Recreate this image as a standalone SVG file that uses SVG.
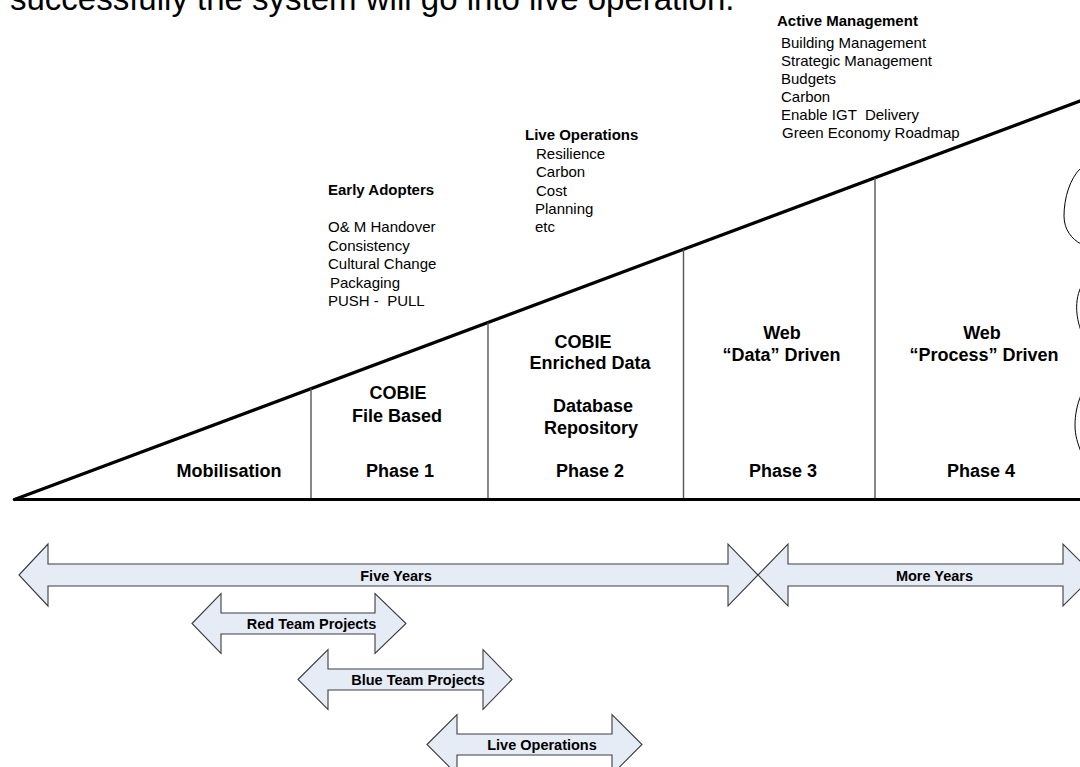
<svg xmlns="http://www.w3.org/2000/svg" width="1080" height="767" viewBox="0 0 1080 767">
  <style>
    text { font-family: "Liberation Sans", Arial, sans-serif; fill: #000; }
    .intro { font-size: 33px; }
    .head { font-size: 15px; font-weight: bold; }
    .item { font-size: 15px; }
    .phase { font-size: 18px; font-weight: bold; text-anchor: middle; }
    .span { font-size: 14.5px; font-weight: bold; text-anchor: middle; }
    .edge { stroke: #000; stroke-width: 3.2; fill: none; stroke-linecap: round; }
    .divider { stroke: #555; stroke-width: 1.4; fill: none; }
    .curl { stroke: #000; stroke-width: 1; fill: none; }
    .band { fill: #E6ECF6; stroke: #3c3c3c; stroke-width: 1.1; stroke-linejoin: miter; }
  </style>

  <!-- heading line, cut at the top edge -->
  <text class="intro" x="10" y="10">successfully the system will go into live operation.</text>

  <!-- triangle outline: baseline and rising edge -->
  <g id="connectors">
    <line class="edge" x1="14.5" y1="499.5" x2="1082" y2="499.5"/>
    <line class="edge" x1="14.5" y1="499.5" x2="1082" y2="100.3"/>
    <line class="divider" x1="311" y1="388.5" x2="311" y2="498"/>
    <line class="divider" x1="488" y1="322.5" x2="488" y2="498"/>
    <line class="divider" x1="683.5" y1="249.5" x2="683.5" y2="498"/>
    <line class="divider" x1="875" y1="178" x2="875" y2="498"/>
  </g>

  <!-- partial outlines at the right edge -->
  <g id="edge-curls">
    <path class="curl" d="M1081,168 C1070,178 1064,198 1064,216 C1064,230 1072,239 1081,244"/>
    <path class="curl" d="M1081,287 C1077,295 1076,305 1077,314 C1078,322 1080,328 1081,331"/>
    <path class="curl" d="M1081,395 C1077,405 1075,415 1075,425 C1075,436 1078,444 1081,452"/>
  </g>

  <!-- stages inside the triangle -->
  <g id="mobilisation">
    <text class="phase" x="229" y="476.5">Mobilisation</text>
  </g>
  <g id="phase1">
    <text class="phase" x="398" y="398.5">COBIE</text>
    <text class="phase" x="397" y="422">File Based</text>
    <text class="phase" x="400" y="476.5">Phase 1</text>
  </g>
  <g id="phase2">
    <text class="phase" x="583" y="348">COBIE</text>
    <text class="phase" x="590" y="368.5">Enriched Data</text>
    <text class="phase" x="593" y="412">Database</text>
    <text class="phase" x="591" y="433.5">Repository</text>
    <text class="phase" x="590" y="477">Phase 2</text>
  </g>
  <g id="phase3">
    <text class="phase" x="782" y="339">Web</text>
    <text class="phase" x="781.5" y="361">“Data” Driven</text>
    <text class="phase" x="783" y="477">Phase 3</text>
  </g>
  <g id="phase4">
    <text class="phase" x="982" y="339">Web</text>
    <text class="phase" x="984" y="361">“Process” Driven</text>
    <text class="phase" x="981" y="477">Phase 4</text>
  </g>

  <!-- notes above the rising edge -->
  <g id="early-adopters">
    <text class="head" x="328" y="195">Early Adopters</text>
    <text class="item" x="328" y="232">O&amp; M Handover</text>
    <text class="item" x="328" y="250.5">Consistency</text>
    <text class="item" x="328" y="269">Cultural Change</text>
    <text class="item" x="330" y="287.5">Packaging</text>
    <text class="item" x="328" y="306" xml:space="preserve">PUSH -  PULL</text>
  </g>
  <g id="live-operations-notes">
    <text class="head" x="525" y="140">Live Operations</text>
    <text class="item" x="536" y="158.5">Resilience</text>
    <text class="item" x="536" y="177">Carbon</text>
    <text class="item" x="536" y="195.5">Cost</text>
    <text class="item" x="535" y="214">Planning</text>
    <text class="item" x="535" y="232">etc</text>
  </g>
  <g id="active-management">
    <text class="head" x="777" y="26">Active Management</text>
    <text class="item" x="781" y="47.5">Building Management</text>
    <text class="item" x="781" y="65.5">Strategic Management</text>
    <text class="item" x="781" y="83.5">Budgets</text>
    <text class="item" x="781" y="101.5">Carbon</text>
    <text class="item" x="781" y="119.5" xml:space="preserve">Enable IGT  Delivery</text>
    <text class="item" x="782" y="137.5">Green Economy Roadmap</text>
  </g>

  <!-- time spans: double-headed block arrows -->
  <g id="five-years">
    <path class="band" d="M19,575 L48,544 L48,564 L728,564 L728,544 L758,575 L728,606 L728,586 L48,586 L48,606 Z"/>
    <text class="span" x="396" y="580.5">Five Years</text>
  </g>
  <g id="more-years">
    <path class="band" d="M758,575 L788,544 L788,564 L1063,564 L1063,544 L1094,575 L1063,606 L1063,586 L788,586 L788,606 Z"/>
    <text class="span" x="934.5" y="580.5">More Years</text>
  </g>
  <g id="red-team">
    <path class="band" d="M192,623.5 L221,593.5 L221,613 L375,613 L375,593.5 L406,623.5 L375,653.5 L375,634 L221,634 L221,653.5 Z"/>
    <text class="span" x="311.5" y="629">Red Team Projects</text>
  </g>
  <g id="blue-team">
    <path class="band" d="M298,679.5 L328,649.5 L328,669 L483,669 L483,649.5 L512,679.5 L483,709.5 L483,690 L328,690 L328,709.5 Z"/>
    <text class="span" x="418" y="685">Blue Team Projects</text>
  </g>
  <g id="live-operations">
    <path class="band" d="M427,744.5 L457,714.5 L457,734 L612,734 L612,714.5 L642,744.5 L612,774.5 L612,755 L457,755 L457,774.5 Z"/>
    <text class="span" x="542" y="750">Live Operations</text>
  </g>
</svg>
